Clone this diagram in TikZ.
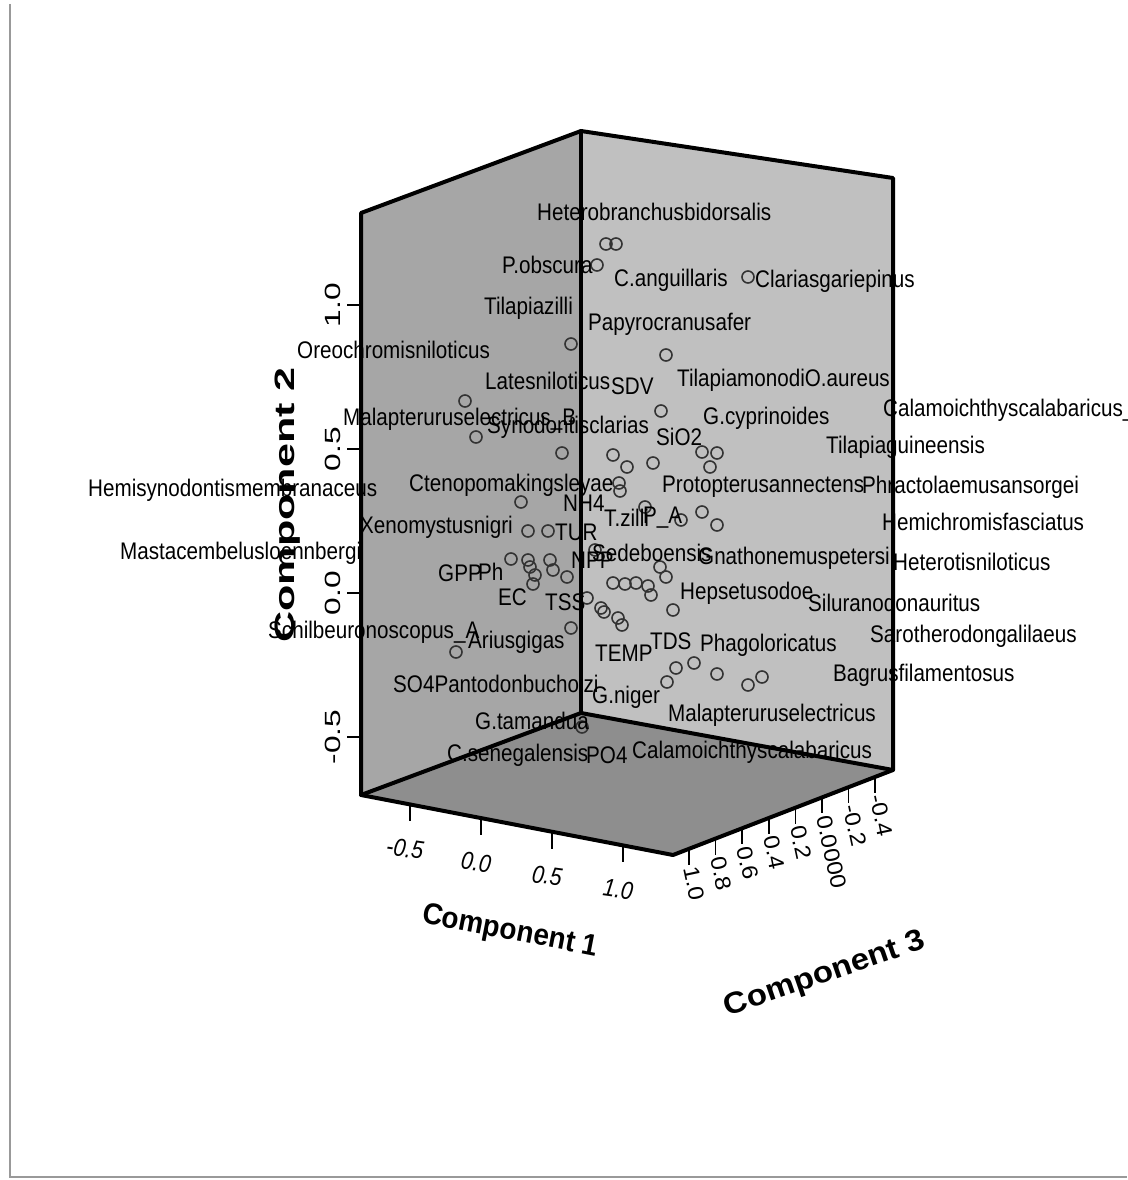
\documentclass[tikz,border=0pt]{standalone}
\usepackage{fontspec}
\setmainfont{Liberation Sans}
\newfontfamily\lblfont[FakeStretch=0.86]{Liberation Sans}
\usetikzlibrary{positioning, calc}

\definecolor{leftwall}{HTML}{A6A6A6}
\definecolor{rightwall}{HTML}{C0C0C0}
\definecolor{floorwall}{HTML}{8E8E8E}

\tikzset{
  lbl/.style={font=\lblfont\fontsize{24}{26}\selectfont, anchor=west, inner sep=0pt, text=black},
  pt/.style={draw=black!80, line width=1.6pt},
  boxedge/.style={line width=4pt, line join=round, line cap=round},
  tickmark/.style={line width=1.6pt},
  ticklbl/.style={font=\fontsize{22}{24}\selectfont, inner sep=0pt},
  ttl/.style={font=\bfseries\fontsize{28}{30}\selectfont, inner sep=0pt},
}

\begin{document}
\begin{tikzpicture}[x=1pt, y=-1pt]

        \useasboundingbox (0,0) rectangle (1127,1180);
        \draw[gray!80, line width=2pt] (10,4) -- (10,1177) -- (1127,1177);

        % box corners
        \coordinate (TL) at (361,213);
        \coordinate (TB) at (581,131);
        \coordinate (TR) at (893,178);
        \coordinate (BL) at (361,795);
        \coordinate (BB) at (581,713);
        \coordinate (BR) at (893,770);
        \coordinate (BF) at (673,855);

        \fill[leftwall] (TL) -- (TB) -- (BB) -- (BL) -- cycle;
        \fill[rightwall] (TB) -- (TR) -- (BR) -- (BB) -- cycle;
        \fill[floorwall] (BL) -- (BB) -- (BR) -- (BF) -- cycle;

        % points
        \foreach \px/\py in {606/244,616/244,597/265,748/277,571/344,666/355,465/401,476/437,661/411,
            562/453,613/455,627/467,653/463,702/452,717/453,710/467,619/483,620/491,521/502,
            645/507,681/520,702/512,717/525,528/531,548/531,595/550,
            511/559,528/560,530/567,535/575,533/584,550/560,553/570,567/577,
            587/598,601/608,604/612,618/618,622/625,613/583,625/584,636/583,648/586,651/595,
            660/567,666/577,673/610,571/628,456/652,
            667/682,676/668,694/663,717/674,748/685,762/677,582/727}
            \draw[pt] (\px,\py) circle (6pt);

        % labels
        \foreach \lx/\ly/\txt [count=\i] in {
            537/212/Heterobranchusbidorsalis, 502/265/P.obscura, 614/280/C.anguillaris,
            755/281/Clariasgariepinus, 484/308/Tilapiazilli, 588/324/Papyrocranusafer,
            297/350/Oreochromisniloticus, 485/381/Latesniloticus, 611/386/SDV,
            677/380/TilapiamonodiO.aureus, 883/410/Calamoichthyscalabaricus\_A,
            343/419/Malapteruruselectricus\_B, 487/427/Synodontisclarias,
            703/418/G.cyprinoides, 656/437/SiO2, 826/447/Tilapiaguineensis,
            88/490/Hemisynodontismembranaceus, 409/485/Ctenopomakingsleyae,
            662/487/Protopterusannectens, 862/487/Phractolaemusansorgei,
            563/503/NH4, 604/518/T.zilli, 643/518/P\_A, 882/522/Hemichromisfasciatus,
            360/527/Xenomystusnigri, 555/532/TUR, 120/553/Mastacembelusloennbergi,
            698/558/Gnathonemuspetersii, 893/562/Heterotisniloticus, 571/560/NPP,
            592/553/Sedeboensis, 438/573/GPP, 478/572/Ph, 498/597/EC, 545/602/TSS,
            680/593/Hepsetusodoe, 808/603/Siluranodonauritus,
            268/632/Schilbeuronoscopus\_A, 468/642/Ariusgigas,
            870/636/Sarotherodongalilaeus, 595/653/TEMP, 650/641/TDS,
            700/645/Phagoloricatus, 393/684/SO4Pantodonbucholzi, 592/697/G.niger,
            833/675/Bagrusfilamentosus, 668/715/Malapteruruselectricus,
            475/721/G.tamandua, 447/755/C.senegalensis, 586/755/PO4,
            632/752/Calamoichthyscalabaricus}
            \node[lbl] (lab\i) at (\lx,\ly) {\txt};

        % box edges
        \draw[boxedge] (BL) -- (TL) -- (TB) -- (TR) -- (BR) -- (BF) -- cycle;
        \draw[boxedge] (TB) -- (BB);
        \draw[boxedge] (BL) -- (BB) -- (BR);

        % component 2 axis
        \foreach \v/\ty in {1.0/305,0.5/449,0.0/593,-0.5/737} {
            \draw[tickmark] (347,\ty) -- (361,\ty);
            \node[ticklbl, rotate=90] (ya\ty) at (333,\ty) {\scalebox{1.44}[1]{\v}};
        }
        \node[ttl, rotate=90] (ttl2) at (288,505) {\scalebox{1.54}[1]{Component 2}};

        % component 1 axis
        \foreach \v/\tx [count=\i] in {-0.5/410,0.0/481,0.5/552,1.0/623} {
            \coordinate (xa\i) at (\tx,{795+(\tx-361)*0.1923});
            \draw[tickmark] (xa\i) -- ++(0,17);
            \node[ticklbl, font=\lblfont\itshape\fontsize{25}{27}\selectfont, rotate=-8]
                (xl\i) at ($(xa\i)+(-5,44)$) {\v};
        }
        \node[ttl, font=\bfseries\fontsize{30}{32}\selectfont, rotate=-11] (ttl1) at (510,932)
            {\scalebox{0.93}[1]{Component 1}};

        % component 3 axis
        \foreach \v [count=\i from 0] in {1.0,0.8,0.6,0.4,0.2,0.0000,-0.2,-0.4} {
            \coordinate (za\i) at ({689+26.6*\i},{855-(689+26.6*\i-673)*0.3864});
            \draw[tickmark] (za\i) -- ++(0,16);
            \node[ticklbl, anchor=west, rotate=-78] (zl\i) at ($(za\i)+(2,18)$)
                {\scalebox{1.1}[1]{\v}};
        }
        \node[ttl, font=\bfseries\fontsize{30}{32}\selectfont, rotate=19] (ttl3) at (825,975)
            {\scalebox{1.1}[1]{Component 3}};

\end{tikzpicture}
\end{document}
